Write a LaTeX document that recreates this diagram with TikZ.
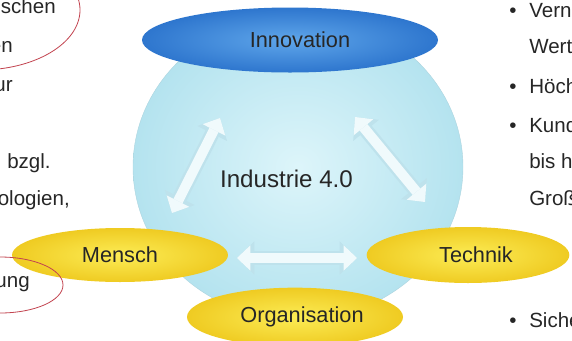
\documentclass[tikz,border=0pt]{standalone}
\usepackage{fontspec}
\setmainfont{Liberation Sans}
\usetikzlibrary{arrows.meta, shapes.geometric}

\definecolor{coreIn}{HTML}{DDF5FA}
\definecolor{coreOut}{HTML}{B4E3EF}
\definecolor{blueIn}{HTML}{5FA6EA}
\definecolor{blueOut}{HTML}{2E76CE}
\definecolor{yellowIn}{HTML}{FCEC55}
\definecolor{yellowOut}{HTML}{EFCB22}
\definecolor{arrowEdge}{HTML}{BEE2EC}
\definecolor{arrowFace}{HTML}{F0FAFC}
\definecolor{markRed}{HTML}{C2434F}
\definecolor{inkGray}{HTML}{262626}

\begin{document}
\begin{tikzpicture}[
		x=0.75pt, y=-0.75pt,
		field/.style={
			ellipse,
			inner sep=0pt,
			text=inkGray,
			font=\fontsize{16.3}{19}\selectfont
		},
		pillar/.style={
			field,
			shade,
			inner color=yellowIn,
			outer color=yellowOut
		},
		sidetext/.style={
			inner sep=0pt,
			text=inkGray,
			font=\fontsize{15.4}{18}\selectfont
		},
		linkarrow/.style={
			line width=7.5pt,
			draw=arrowFace,
			{Triangle[length=10pt,width=19pt,line width=0pt]}-{Triangle[length=10pt,width=19pt,line width=0pt]},
			preaction={
				draw=arrowEdge,
				line width=11pt,
				{Triangle[length=13pt,width=25pt,line width=0pt]}-{Triangle[length=13pt,width=25pt,line width=0pt]}
			}
		},
		annot/.style={
			draw=markRed,
			line width=0.6pt
		}
	]
	
	\useasboundingbox (0,0) rectangle (572,340);
	\clip (0,0) rectangle (572,340);
	
	% core
	\node[ellipse, shade, inner color=coreIn, outer color=coreOut, draw=coreOut!85!gray, line width=0.3pt,
		minimum width=247.5pt, minimum height=229.5pt] (core) at (298,167) {};
	
	\coordinate (mTop) at (220,118);
	\coordinate (mBot) at (172,213);
	\coordinate (tTop) at (355,117);
	\coordinate (tBot) at (425,202);
	\coordinate (oLeft) at (237,258);
	\coordinate (oRight) at (357,258);
	
	\draw[linkarrow] (mBot) -- (mTop);
	\draw[linkarrow] (tTop) -- (tBot);
	\draw[linkarrow] (oLeft) -- (oRight);
	
	\node[font=\fontsize{18.1}{21}\selectfont, text=inkGray, anchor=base] (ind) at (286.5,187) {Industrie 4.0};
	
	% pillars
	\node[field, shade, inner color=blueIn, outer color=blueOut, minimum width=222pt, minimum height=48.75pt]
		(innov) at (290,40) {\hspace*{15pt}Innovation};
	\node[pillar, minimum width=162pt, minimum height=40.5pt] (mensch) at (120,255) {Mensch};
	\node[pillar, minimum width=152pt, minimum height=42pt] (technik) at (468,255) {\hspace*{12pt}Technik};
	\node[pillar, minimum width=162pt, minimum height=44pt] (orga) at (295,317) {\hspace*{10.5pt}Organisation};
	
	% left column
	\node[sidetext, anchor=base east] (l1) at (56,13) {schen};
	\node[sidetext, anchor=base east] (l2) at (13,52) {en};
	\node[sidetext, anchor=base east] (l3) at (13,91) {ur};
	\node[sidetext, anchor=base west] (l4) at (7,168) {bzgl.};
	\node[sidetext, anchor=base east] (l5) at (70,205) {ologien,};
	\node[sidetext, anchor=base east] (l6) at (30,287) {ung};
	
	\draw[annot] (-20,10) ellipse [x radius=100, y radius=60];
	\draw[annot] (0,285) ellipse [x radius=63, y radius=28];
	
	% right column
	\node[sidetext, anchor=base] (b1) at (513,17) {•};
	\node[sidetext, anchor=base west] (r1) at (529,17) {Vern};
	\node[sidetext, anchor=base west] (r2) at (529,53) {Wert};
	\node[sidetext, anchor=base] (b2) at (513,93) {•};
	\node[sidetext, anchor=base west] (r3) at (529,93) {Höch};
	\node[sidetext, anchor=base] (b3) at (513,132) {•};
	\node[sidetext, anchor=base west] (r4) at (529,132) {Kund};
	\node[sidetext, anchor=base west] (r5) at (529,168) {bis h};
	\node[sidetext, anchor=base west] (r6) at (529,205) {Groß};
	\node[sidetext, anchor=base] (b4) at (513,327) {•};
	\node[sidetext, anchor=base west] (r7) at (529,327) {Siche};
	
\end{tikzpicture}
\end{document}
